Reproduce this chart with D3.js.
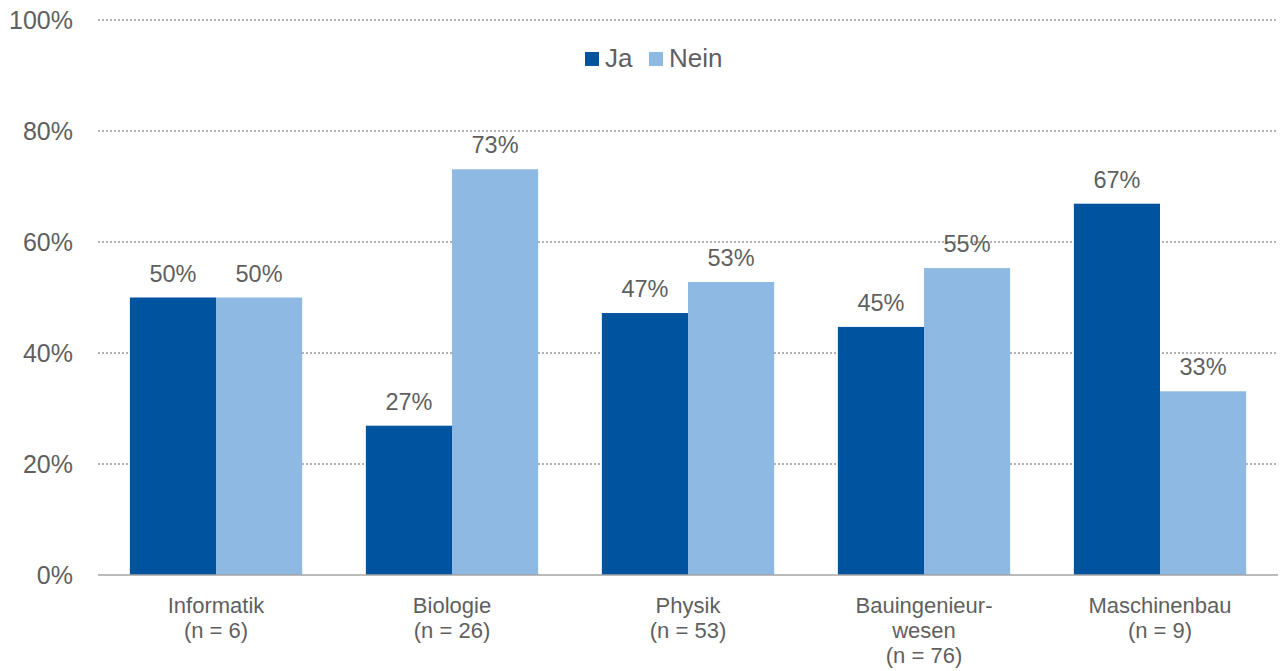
<!DOCTYPE html>
<html lang="de">
<head>
	<meta charset="utf-8">
	<title>Ja / Nein</title>
	<script src="https://d3js.org/d3.v7.min.js"></script>
	<style type="text/css">
		body { margin: 0; background: #fff; }
		svg text { font-family: "Liberation Sans", Arial, sans-serif; fill: #5f5f5f; }
		.grid line { stroke: #999; stroke-width: 1.5; stroke-dasharray: 2,2; }
		.axis path, .axis line { stroke: none; }
	</style>
</head>
<body>
<script type="text/javascript">

	// Data
	var categories = [
		["Informatik", "(n = 6)"],
		["Biologie", "(n = 26)"],
		["Physik", "(n = 53)"],
		["Bauingenieur-", "wesen", "(n = 76)"],
		["Maschinenbau", "(n = 9)"]
	];
	var series = ["Ja", "Nein"];
	var jaValues = [50, 26.9, 47.2, 44.7, 66.9];
	var neinValues = [50, 73.1, 52.8, 55.3, 33.1];
	var yTicks = [0, 20, 40, 60, 80, 100];
	var colors = ["#00539f", "#8db9e2"];

	var width = 1280, height = 671;
	var margin = {top: 20, right: 2, bottom: 96, left: 98};

	var svg = d3.select("body").append("svg")
		.attr("width", width)
		.attr("height", height);

	var yScale = d3.scaleLinear()
		.domain([0, 100])
		.range([height - margin.bottom, margin.top]);

	var x0 = d3.scaleBand()
		.domain(d3.range(categories.length))
		.range([margin.left, width - margin.right])
		.paddingInner(0.27)
		.paddingOuter(0.135);

	var x1 = d3.scaleBand()
		.domain(series)
		.range([0, x0.bandwidth()]);

	// Gridlines
	svg.append("g")
		.attr("class", "grid")
		.selectAll("line")
		.data(yTicks.filter(function(d) { return d > 0; }))
		.enter().append("line")
		.attr("x1", margin.left)
		.attr("x2", width - margin.right)
		.attr("y1", function(d) { return yScale(d); })
		.attr("y2", function(d) { return yScale(d); });

	// Y axis labels
	var yAxis = d3.axisLeft(yScale)
		.tickValues(yTicks)
		.tickFormat(function(d) { return d + "%"; })
		.tickSize(0)
		.tickPadding(25);

	svg.append("g")
		.attr("class", "axis")
		.attr("transform", "translate(" + margin.left + ",0)")
		.call(yAxis)
		.selectAll("text")
		.style("font-size", "25px")
		.attr("dy", "0.35em");

	// Bars
	var rows = categories.map(function(c, i) {
		return {i: i, vals: [{s: "Ja", v: jaValues[i]}, {s: "Nein", v: neinValues[i]}]};
	});

	var groups = svg.selectAll(".grp")
		.data(rows)
		.enter().append("g")
		.attr("class", "grp")
		.attr("transform", function(d) { return "translate(" + x0(d.i) + ",0)"; });

	groups.selectAll("rect")
		.data(function(d) { return d.vals; })
		.enter().append("rect")
		.attr("x", function(d) { return x1(d.s); })
		.attr("y", function(d) { return yScale(d.v); })
		.attr("width", x1.bandwidth())
		.attr("height", function(d) { return yScale(0) - yScale(d.v); })
		.attr("fill", function(d, i) { return colors[i]; });

	groups.selectAll(".lbl")
		.data(function(d) { return d.vals; })
		.enter().append("text")
		.attr("class", "lbl")
		.attr("x", function(d) { return x1(d.s) + x1.bandwidth() / 2; })
		.attr("y", function(d) { return yScale(d.v) - 16; })
		.attr("text-anchor", "middle")
		.style("font-size", "23.5px")
		.text(function(d) { return Math.round(d.v) + "%"; });

	// Baseline
	svg.append("line")
		.attr("x1", margin.left)
		.attr("x2", width - margin.right)
		.attr("y1", yScale(0))
		.attr("y2", yScale(0))
		.attr("stroke", "#a6a6a6")
		.attr("stroke-width", 1.5);

	// Category labels
	svg.selectAll(".cat")
		.data(categories)
		.enter().append("text")
		.attr("class", "cat")
		.attr("text-anchor", "middle")
		.style("font-size", "22px")
		.each(function(d, i) {
			var t = d3.select(this);
			d.forEach(function(line, k) {
				t.append("tspan")
					.attr("x", x0(i) + x0.bandwidth() / 2)
					.attr("y", yScale(0) + 38 + k * 25)
					.text(line);
			});
		});

	// Legend
	var legend = svg.append("g").attr("transform", "translate(585,52)");
	var legendX = [0, 64];
	series.forEach(function(s, i) {
		legend.append("rect")
			.attr("x", legendX[i])
			.attr("y", 0)
			.attr("width", 14)
			.attr("height", 14)
			.attr("fill", colors[i]);
		legend.append("text")
			.attr("x", legendX[i] + 20)
			.attr("y", 15)
			.style("font-size", "26px")
			.text(s);
	});

</script>
</body>
</html>
